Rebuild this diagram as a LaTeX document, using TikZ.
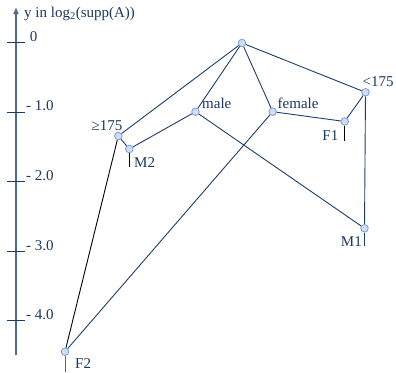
\documentclass[tikz,border=0pt]{standalone}
\usepackage{fontspec}
\setmainfont{Liberation Serif}
\usetikzlibrary{arrows.meta}
\definecolor{edgeblue}{RGB}{30,62,105}
\definecolor{axisblue}{RGB}{75,105,145}
\definecolor{txtblue}{RGB}{28,55,95}
\definecolor{nodefill}{RGB}{205,222,247}
\definecolor{nodedraw}{RGB}{125,155,205}
\tikzset{
  cnode/.style={circle,fill=nodefill,draw=nodedraw,line width=0.8pt,minimum size=7.6pt,inner sep=0pt},
  lbl/.style={text=txtblue,inner sep=0pt,font=\fontsize{15}{17}\selectfont},
  edge/.style={draw=edgeblue,line width=0.9pt},
  axis/.style={draw=axisblue,line width=1.3pt},
  tickline/.style={draw=edgeblue,line width=1pt},
  objtick/.style={line width=1pt}
}
\begin{document}
\begin{tikzpicture}[x=1pt,y=-1pt]
\useasboundingbox (0,0) rectangle (396,372);
% axis
\coordinate (ab) at (16,355);
\coordinate (at) at (16,7);
\draw[axis,-{Latex[length=7pt,width=6pt]}] (ab) -- (at);
\node[lbl,anchor=west] (ylab) at (24,14) {y in log\textsubscript{2}(supp(A))};
\foreach \yy/\tl [count=\i] in {42.5/{\ 0},112/{- 1.0},181.7/{- 2.0},251.5/{- 3.0},320.7/{- 4.0}}{
  \coordinate (tl\i) at (7,\yy);
  \coordinate (tr\i) at (25,\yy);
  \draw[tickline] (tl\i) -- (tr\i);
  \node[lbl,anchor=west] (tlab\i) at (26,\yy-6) {\tl};
}
% nodes
\node[cnode] (top) at (242,43) {};
\node[cnode] (lt) at (365.5,92.3) {};
\node[cnode] (male) at (195.5,111.7) {};
\node[cnode] (female) at (272.7,111.7) {};
\node[cnode] (ge) at (118.3,136) {};
\node[cnode] (M2) at (129.3,149) {};
\node[cnode] (F1) at (344.7,121.5) {};
\node[cnode] (M1) at (364.5,228.3) {};
\node[cnode] (F2) at (65,351.7) {};
% edges
\draw[edge] (top) -- (ge);
\draw[edge] (top) -- (male);
\draw[edge] (top) -- (female);
\draw[edge] (top) -- (lt);
\draw[edge] (ge) -- (M2);
\draw[line width=0.9pt,black] (ge) -- (F2);
\draw[edge] (male) -- (M2);
\draw[edge] (male) -- (M1);
\draw[edge] (female) -- (F2);
\draw[edge] (female) -- (F1);
\draw[edge] (lt) -- (F1);
\draw[edge] (lt) -- (M1);
% object ticks
\coordinate (M2t) at (129.3,167);
\coordinate (F1t) at (344.7,141);
\coordinate (M1t) at (364.5,246);
\coordinate (F2t) at (65,372);
\draw[objtick,black] (M2) -- (M2t);
\draw[objtick,black] (F1) -- (F1t);
\draw[objtick,edgeblue] (M1) -- (M1t);
\draw[objtick,axisblue] (F2) -- (F2t);
% labels
\node[lbl,anchor=west] (lmale) at (202,103) {male};
\node[lbl,anchor=west] (lfemale) at (277.5,103) {female};
\node[lbl,anchor=west] (llt) at (362.5,81.5) {<175};
\node[lbl,anchor=east] (lge) at (122.5,126) {≥175};
\node[lbl,anchor=west] (lM2) at (134,163) {M2};
\node[lbl,anchor=east] (lF1) at (338.5,136) {F1};
\node[lbl,anchor=east] (lM1) at (362,242) {M1};
\node[lbl,anchor=west] (lF2) at (75,364) {F2};
\end{tikzpicture}
\end{document}
